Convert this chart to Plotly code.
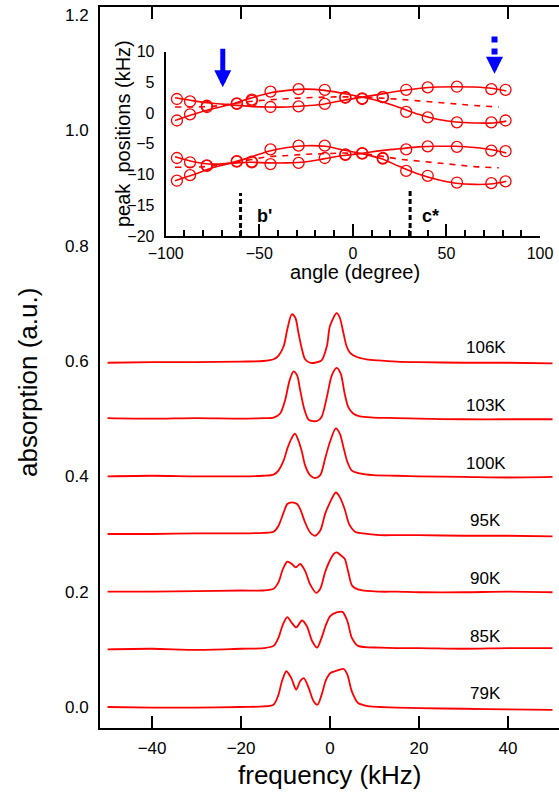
import plotly.graph_objects as go

# ---- main panel: NMR spectra, offset by temperature ----
temps = ["79K", "85K", "90K", "95K", "100K", "103K", "106K"]
offsets = [0.0, 0.1, 0.2, 0.3, 0.4, 0.5, 0.6]

freq_79 = [-50, -40, -30, -20, -15, -12.7, -11.6, -10.8, -9.8, -8.7, -7.6, -6.7, -5.9, -4.8, -3.7, -2.8,
           -1.9, -0.9, 0.1, 1.1, 2.2, 3.1, 3.9, 4.9, 6.3, 9.0, 11.2, 15, 20, 30, 40, 50]
abs_79 = [0.0, -0.001, -0.001, 0.0, 0.001, 0.004, 0.021, 0.045, 0.062, 0.050, 0.030, 0.045, 0.050, 0.033, 0.010, 0.004,
          0.021, 0.047, 0.059, 0.062, 0.065, 0.066, 0.056, 0.027, 0.007, 0.001, 0.0, -0.001, -0.002, -0.003, -0.004, -0.005]

freq_85 = [-50, -40, -30, -20, -15, -12.7, -11.6, -10.6, -9.6, -8.6, -7.6, -6.3, -5.2, -4.0, -2.9, -1.9,
           -0.9, 0.1, 1.5, 2.8, 3.9, 4.9, 6.3, 11.2, 15, 20, 30, 40, 50]
abs_85 = [0.0, 0.001, -0.001, 0.001, 0.002, 0.006, 0.020, 0.043, 0.056, 0.046, 0.038, 0.050, 0.040, 0.014, 0.003, 0.020,
          0.043, 0.058, 0.064, 0.065, 0.049, 0.020, 0.006, 0.003, 0.002, 0.002, 0.001, 0.002, 0.002]

freq_90 = [-50, -40, -30, -20, -15, -12.7, -11.6, -10.6, -9.6, -8.6, -7.7, -6.7, -5.6, -4.5, -3.1, -2.2,
           -1.1, -0.4, 0.8, 1.5, 2.6, 3.3, 4.1, 5.0, 6.7, 11.2, 15, 20, 30, 40, 50]
abs_90 = [0.0, 0.0, 0.001, 0.002, 0.002, 0.005, 0.016, 0.039, 0.052, 0.048, 0.042, 0.048, 0.036, 0.013, -0.002, 0.005,
          0.034, 0.048, 0.065, 0.068, 0.062, 0.057, 0.034, 0.010, 0.003, 0.0, 0.0, -0.001, -0.001, 0.0, -0.001]

freq_95 = [-50, -40, -30, -20, -15, -12.7, -11.6, -10.4, -9.6, -8.6, -7.4, -6.7, -5.6, -4.5, -3.4, -2.2,
           -1.1, 0.0, 1.3, 2.2, 3.3, 4.3, 5.6, 7.4, 11.2, 15, 20, 30, 40, 50]
abs_95 = [0.0, 0.0, 0.001, 0.001, 0.002, 0.004, 0.014, 0.038, 0.052, 0.055, 0.052, 0.043, 0.020, 0.003, -0.003, 0.006,
          0.035, 0.055, 0.072, 0.064, 0.043, 0.017, 0.004, 0.001, -0.002, -0.002, -0.002, -0.003, -0.003, -0.004]

freq_100 = [-50, -40, -30, -20, -15, -12.7, -11.6, -10.4, -9.6, -8.7, -7.9, -7.1, -6.3, -5.6, -4.5, -3.4,
            -2.2, -1.1, 0.0, 1.3, 2.2, 3.0, 3.9, 4.9, 6.7, 9.7, 15, 20, 30, 40, 50]
abs_100 = [0.0, 0.001, 0.0, 0.0, 0.001, 0.003, 0.010, 0.028, 0.048, 0.065, 0.074, 0.062, 0.042, 0.019, 0.002, -0.003,
           0.002, 0.031, 0.060, 0.083, 0.074, 0.051, 0.025, 0.010, 0.005, 0.002, 0.001, 0.0, -0.001, -0.002, -0.001]

freq_103 = [-50, -40, -30, -20, -15, -12.7, -11.2, -10.1, -9.1, -8.2, -7.4, -6.7, -5.8, -4.8, -2.9, -1.9,
            -0.7, 0.4, 1.5, 2.4, 3.3, 4.1, 5.2, 6.7, 9.7, 15, 20, 30, 40, 50]
abs_103 = [0.001, 0.0, 0.001, 0.0, 0.001, 0.002, 0.009, 0.032, 0.066, 0.082, 0.075, 0.049, 0.017, -0.002, -0.004, 0.003,
           0.038, 0.075, 0.088, 0.078, 0.043, 0.020, 0.009, 0.004, 0.002, 0.001, 0.0, -0.001, -0.001, -0.001]

freq_106 = [-50, -40, -30, -20, -15, -12.7, -11.6, -10.4, -9.6, -8.6, -7.8, -7.1, -6.3, -5.6, -4.5, -3.4,
            -1.9, -0.7, 0.0, 1.5, 2.2, 3.0, 3.7, 4.5, 6.0, 8.2, 10.9, 15, 20, 30, 40, 50]
abs_106 = [-0.003, -0.002, -0.002, -0.001, 0.0, 0.003, 0.009, 0.026, 0.055, 0.081, 0.075, 0.049, 0.020, 0.003, -0.003, -0.003,
           0.001, 0.026, 0.061, 0.083, 0.075, 0.049, 0.026, 0.014, 0.007, 0.003, 0.001, -0.001, -0.002, -0.003, -0.003, -0.004]

spectra = [(freq_79, abs_79), (freq_85, abs_85), (freq_90, abs_90), (freq_95, abs_95),
           (freq_100, abs_100), (freq_103, abs_103), (freq_106, abs_106)]

# ---- inset: peak positions vs angle ----
angles = [-94, -87, -78, -62, -54, -44, -29, -15, -4, 5, 16, 28.5, 40, 55.6, 74, 81.6]
up_a = [2.3, 1.9, 1.2, 1.6, 2.2, 3.5, 3.9, 3.8, 2.6, 2.3, 2.6, 3.8, 4.2, 4.3, 3.9, 3.8]
up_b = [-1.2, -0.2, 1.0, 1.5, 2.0, 1.0, 1.1, 1.5, 2.5, 2.4, 2.6, 0.2, -0.7, -1.5, -1.5, -1.2]
lo_a = [-7.3, -8.0, -8.5, -7.8, -8.0, -5.9, -5.3, -5.3, -6.7, -6.5, -7.3, -5.9, -5.4, -5.5, -6.1, -6.2]
lo_b = [-11.0, -10.1, -8.6, -7.9, -7.9, -8.3, -8.1, -7.3, -6.8, -6.6, -7.4, -9.4, -10.2, -11.3, -11.4, -11.1]

fit_angle = [-95, -85, -75, -65, -55, -45, -35, -25, -15, -5, 5, 15, 25, 35, 45, 55, 65, 75, 82]
fit_up_a = [2.5, 2.0, 1.6, 1.35, 1.1, 1.0, 1.0, 1.2, 1.5, 2.1, 2.6, 3.1, 3.6, 4.0, 4.25, 4.3, 4.25, 4.0, 3.6]
fit_up_b = [-1.2, -0.2, 0.7, 1.45, 2.4, 3.25, 3.7, 3.9, 3.7, 3.2, 2.6, 1.9, 0.9, -0.2, -1.0, -1.45, -1.6, -1.6, -1.3]
fit_lo_a = [-7.1, -7.9, -8.3, -8.15, -8.0, -8.1, -8.1, -7.9, -7.4, -6.9, -6.55, -6.1, -5.8, -5.5, -5.4, -5.4, -5.6, -6.0, -6.5]
fit_lo_b = [-11.0, -10.0, -8.9, -8.1, -7.2, -6.2, -5.6, -5.3, -5.4, -6.0, -6.6, -7.4, -8.7, -9.9, -10.8, -11.4, -11.6, -11.5, -11.1]

dash_angle = [-95, -85, -75, -65, -55, -45, -35, -25, -15, -5, 5, 15, 25, 35, 45, 55, 65, 78]
dash_up = [1.0, 1.0, 1.1, 1.5, 1.9, 2.15, 2.35, 2.5, 2.6, 2.65, 2.6, 2.45, 2.25, 2.0, 1.75, 1.5, 1.25, 1.0]
dash_lo = [-8.8, -8.8, -8.6, -8.1, -7.6, -7.1, -6.9, -6.7, -6.6, -6.5, -6.6, -7.0, -7.5, -7.8, -8.1, -8.4, -8.7, -8.9]

RED = "rgb(255,0,0)"
FONT = "Arial, Liberation Sans, Helvetica, sans-serif"

# figure pixel geometry of the main plot area
W, H = 559, 792
L, T, B = 100, 7, 728


def px(x):
    return (x - L) / (W - L)


def py(y):
    return (B - y) / (B - T)


fig = go.Figure()

for (f, a), off, lab in zip(spectra, offsets, temps):
    fig.add_trace(go.Scatter(
        x=f, y=[v + off for v in a], mode="lines",
        line=dict(color=RED, width=1.8, shape="spline", smoothing=0.8),
        hoverinfo="skip"))
    fig.add_annotation(x=35, y=off + 0.023, xref="x", yref="y", text=lab, showarrow=False,
                       xanchor="center", yanchor="middle",
                       font=dict(family=FONT, size=17, color="black"))

for fy in [fit_up_a, fit_up_b, fit_lo_a, fit_lo_b]:
    fig.add_trace(go.Scatter(x=fit_angle, y=fy, mode="lines", xaxis="x2", yaxis="y2",
                             line=dict(color=RED, width=1.6, shape="spline")))
for dy in [dash_up, dash_lo]:
    fig.add_trace(go.Scatter(x=dash_angle, y=dy, mode="lines", xaxis="x2", yaxis="y2",
                             line=dict(color=RED, width=1.6, shape="spline", dash="6px,6px")))
for py_ in [up_a, up_b, lo_a, lo_b]:
    fig.add_trace(go.Scatter(x=angles, y=py_, mode="markers", xaxis="x2", yaxis="y2",
                             marker=dict(symbol="circle-open", size=11, color=RED, line=dict(width=1.3))))

# b' and c* markers
for ang, top, lab, lx in [(-60, -13, "b'", -47), (30.6, -12.2, "c*", 41.7)]:
    fig.add_shape(type="line", xref="x2", yref="y2", x0=ang, x1=ang, y0=-20, y1=top,
                  line=dict(color="black", width=3, dash="5px,3px"))
    fig.add_annotation(x=lx, y=-16.8, xref="x2", yref="y2", text="<b>%s</b>" % lab, showarrow=False,
                       xanchor="center", yanchor="middle",
                       font=dict(family=FONT, size=18, color="black"))

# blue arrows (annotations are not clipped to the inset)
arrow = dict(xref="x2", yref="y2", axref="x2", ayref="y2", text="", showarrow=True,
             arrowcolor="blue", standoff=0, startstandoff=0, borderpad=0, borderwidth=0,
             font=dict(size=1))
fig.add_annotation(x=-69.5, y=4.2, ax=-69.5, ay=10.5, arrowhead=2, arrowwidth=5, arrowsize=0.68, **arrow)
fig.add_annotation(x=75.7, y=6.4, ax=75.7, ay=8.95, arrowhead=2, arrowwidth=5, arrowsize=0.68, **arrow)
# dashed shaft above the inset: paper y so it is only clipped in x
fig.add_shape(type="line", xref="x2", yref="paper", x0=75.7, x1=75.7, y0=py(36.6), y1=py(54.6),
              line=dict(color="blue", width=6, dash="6px,6px"))

# axis titles
titles = [
    (330, 775, "frequency (kHz)", 0, 26),
    (28, 383, "absorption (a.u.)", -90, 26),
    (355, 272, "angle (degree)", 0, 20),
    (123, 134, "peak\u00a0 positions (kHz)", -90, 20),
]
for x, y, txt, ang, size in titles:
    fig.add_annotation(x=px(x), y=py(y), xref="paper", yref="paper", text=txt, showarrow=False,
                       textangle=ang, xanchor="center", yanchor="middle",
                       font=dict(family=FONT, size=size, color="black"))

fig.update_layout(
    width=W, height=H,
    margin=dict(l=L, r=0, t=T, b=H - B),
    paper_bgcolor="white", plot_bgcolor="white",
    showlegend=False,
    font=dict(family=FONT, color="black"),
    xaxis=dict(range=[-51.7, 51.46], tickvals=[-40, -20, 0, 20, 40], showgrid=False, zeroline=False,
               showline=True, linecolor="black", linewidth=2, mirror="ticks", automargin=False,
               ticks="inside", ticklen=12, tickwidth=1.5, tickcolor="black",
               tickfont=dict(size=17), ticklabelstandoff=4),
    yaxis=dict(range=[-0.0364, 1.2139], tickvals=[0, 0.2, 0.4, 0.6, 0.8, 1.0, 1.2], tickformat=".1f",
               showgrid=False, zeroline=False, showline=True, linecolor="black", linewidth=2,
               automargin=False, ticks="", tickfont=dict(size=17), ticklabelstandoff=6),
    xaxis2=dict(domain=[px(165.7), px(540)], anchor="y2", range=[-100, 100], dtick=50, tick0=0,
                showgrid=False, zeroline=False, showline=True, linecolor="black", linewidth=2,
                automargin=False, ticks="inside", ticklen=12, tickwidth=1.5, tickcolor="black",
                minor=dict(dtick=10, ticks="inside", ticklen=6, tickwidth=1.5, tickcolor="black", showgrid=False),
                tickfont=dict(size=16), ticklabelstandoff=2),
    yaxis2=dict(domain=[py(236), py(51.7)], anchor="x2", range=[-20, 10], dtick=5, tick0=0,
                showgrid=False, zeroline=False, showline=True, linecolor="black", linewidth=2,
                automargin=False, ticks="", tickfont=dict(size=16), ticklabelstandoff=6),
)

# the page's default 8px body margin would shift the figure; remove it
fig.write_html("out.html", config={"displayModeBar": False},
               post_script="document.body.style.margin='0px';")
